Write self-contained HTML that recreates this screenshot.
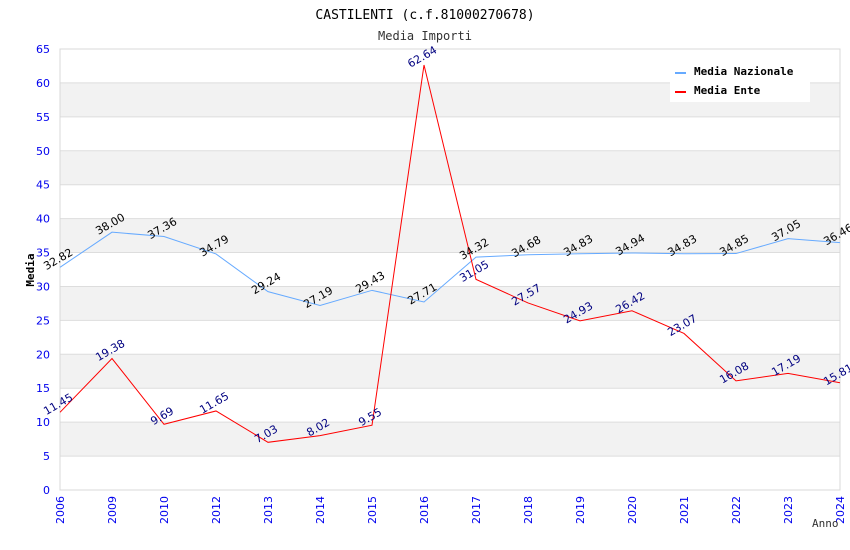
<!DOCTYPE html>
<html><head><meta charset="utf-8"><style>
body{margin:0;background:#fff;}
svg{display:block;font-family:"DejaVu Sans","Liberation Sans",sans-serif;}
</style></head><body>
<svg id="chart" width="850" height="550" viewBox="0 0 850 550" xmlns="http://www.w3.org/2000/svg">
<text x="425" y="19" text-anchor="middle" font-family="DejaVu Sans Mono, Liberation Mono, monospace" font-size="13" fill="#000">CASTILENTI (c.f.81000270678)</text>
<text x="425" y="40" text-anchor="middle" font-family="DejaVu Sans Mono, Liberation Mono, monospace" font-size="12" fill="#333">Media Importi</text>
<g id="bands"></g>
<g id="grid"></g>
<rect x="60" y="49" width="780" height="441" fill="none" stroke="#d8d8d8"/>
<g id="yticks"></g><g id="xticks"></g>
<g id="series"></g><g id="labels"></g>
<text transform="translate(34,270) rotate(-90)" text-anchor="middle" font-family="DejaVu Sans Mono, Liberation Mono, monospace" font-size="11" font-weight="bold" fill="#000">Media</text>
<text x="812" y="527" font-family="DejaVu Sans Mono, Liberation Mono, monospace" font-size="11" fill="#333">Anno</text>
<g>
<rect x="670" y="57" width="140" height="45" fill="#fff"/>
<line x1="675" y1="73" x2="686" y2="73" stroke="#66aaff" stroke-width="2"/>
<text x="694" y="75" font-family="DejaVu Sans Mono, Liberation Mono, monospace" font-size="11" font-weight="bold">Media Nazionale</text>
<line x1="675" y1="92" x2="686" y2="92" stroke="#ff0000" stroke-width="2"/>
<text x="694" y="94" font-family="DejaVu Sans Mono, Liberation Mono, monospace" font-size="11" font-weight="bold">Media Ente</text>
</g>
</svg>
<script>
const categories=["2006","2009","2010","2012","2013","2014","2015","2016","2017","2018","2019","2020","2021","2022","2023","2024"];
const nazionale=[32.82,38.00,37.36,34.79,29.24,27.19,29.43,27.71,34.32,34.68,34.83,34.94,34.83,34.85,37.05,36.46];
const ente=[11.45,19.38,9.69,11.65,7.03,8.02,9.55,62.64,31.05,27.57,24.93,26.42,23.07,16.08,17.19,15.81];
const yTicks=[0,5,10,15,20,25,30,35,40,45,50,55,60,65];
const NS="http://www.w3.org/2000/svg";
const x0=60,x1=840,yb=490,yt=49,ymax=65;
const X=i=>x0+i*(x1-x0)/(categories.length-1);
const Y=v=>yb-v*(yb-yt)/ymax;
function mk(tag,attrs,parent){const e=document.createElementNS(NS,tag);for(const k in attrs)e.setAttribute(k,attrs[k]);document.getElementById(parent).appendChild(e);return e;}
for(let i=0;i<yTicks.length-1;i++){
 if(i%2===1){const r=mk('rect',{x:x0,y:Y(yTicks[i+1]),width:x1-x0,height:Y(yTicks[i])-Y(yTicks[i+1]),fill:'#f2f2f2'},'bands');
 
 }
}
yTicks.forEach(v=>{
 const l=mk('line',{x1:x0,x2:x1,y1:Y(v),y2:Y(v),stroke:'#dddddd'},'grid');
 
 
 const t=mk('text',{x:50,y:Y(v)+4,'text-anchor':'end','font-size':'11',fill:'#0000ee'},'yticks');
 
 
 t.textContent=v;
});
categories.forEach((c,i)=>{
 const t=mk('text',{transform:`translate(${X(i)+4},496) rotate(-90)`,'text-anchor':'end','font-size':'11',fill:'#0000ee'},'xticks');
 
 
 t.textContent=c;
});
function series(vals,color,lab,name){
 const p=mk('polyline',{points:vals.map((v,i)=>X(i)+','+Y(v)).join(' '),fill:'none',stroke:color,'stroke-width':'1'},'series');
 
 
 vals.forEach((v,i)=>{
  const t=mk('text',{transform:`translate(${X(i)},${Y(v)-5}) rotate(-30)`,'text-anchor':'middle','font-size':'11',fill:lab},'labels');
  
  
  t.textContent=v.toFixed(2);
 });
}
series(nazionale,'#66aaff','#000','media-nazionale');
series(ente,'#ff0000','#000080','media-ente');
</script>
</body></html>
